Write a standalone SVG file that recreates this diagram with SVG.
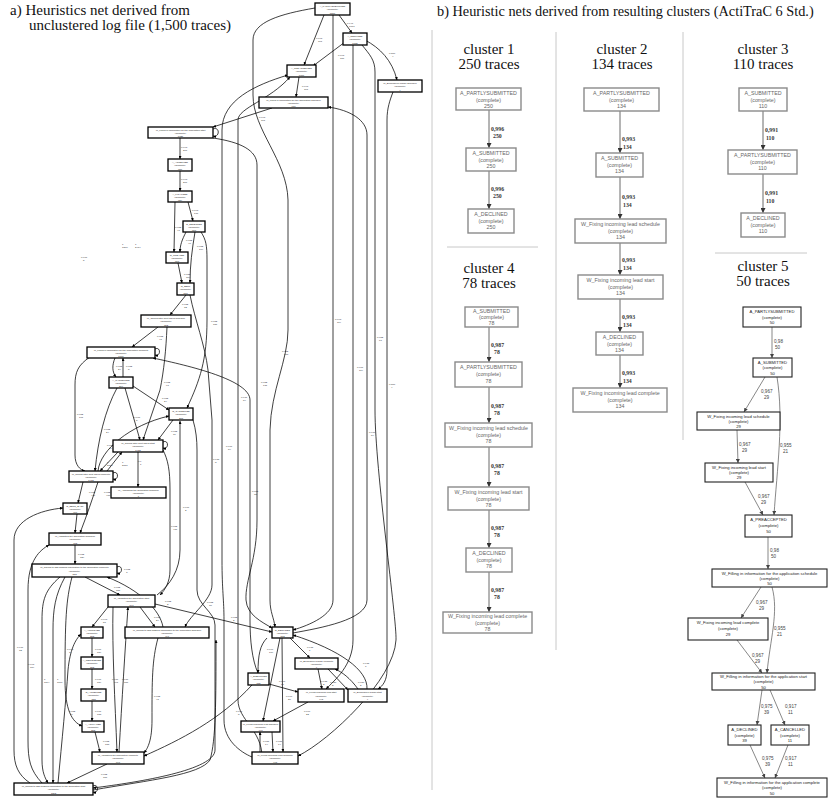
<svg xmlns="http://www.w3.org/2000/svg" width="830" height="798" viewBox="0 0 830 798">
<style>
.ttl{font-family:"Liberation Serif",serif;font-size:15px;fill:#111}
.ttlb{font-family:"Liberation Serif",serif;font-size:14.3px;fill:#111}
.hd{font-family:"Liberation Serif",serif;font-size:15px;fill:#111;text-anchor:middle}
.sep{stroke:#c8c8c8;stroke-width:1;fill:none}
.an rect{fill:#fff;stroke:#000;stroke-width:1.3}
.an text{font-family:"Liberation Sans",sans-serif;font-size:2.4px;fill:#222;text-anchor:middle}
.ea path{fill:none;stroke:#000;stroke-width:0.75;marker-end:url(#ma)}
.la text{font-family:"Liberation Sans",sans-serif;font-size:2.5px;fill:#333}
.bn rect{fill:#fff;stroke:#8a8a8a;stroke-width:1.4}
.bn text{font-family:"Liberation Sans",sans-serif;font-size:5.3px;fill:#666;text-anchor:middle}
.eb path{fill:none;stroke:#444;stroke-width:0.8;marker-end:url(#mb)}
.lb text{font-family:"Liberation Serif",serif;font-size:5.8px;font-weight:bold;fill:#333}
.cn rect{fill:#fff;stroke:#222;stroke-width:1.1}
.cn text{font-family:"Liberation Sans",sans-serif;font-size:4.2px;fill:#222;text-anchor:middle}
.ec path{fill:none;stroke:#555;stroke-width:0.7;marker-end:url(#mc)}
.lc text{font-family:"Liberation Sans",sans-serif;font-size:4.6px;fill:#444}
</style>
<defs>
<marker id="ma" viewBox="0 0 10 10" refX="10" refY="5" markerWidth="3" markerHeight="3" markerUnits="userSpaceOnUse" orient="auto"><path d="M0,0 L10,5 L0,10z" fill="#000"/></marker>
<marker id="mb" viewBox="0 0 10 10" refX="10" refY="5" markerWidth="5" markerHeight="5" markerUnits="userSpaceOnUse" orient="auto"><path d="M0,0 L10,5 L0,10z" fill="#333"/></marker>
<marker id="mc" viewBox="0 0 10 10" refX="10" refY="5" markerWidth="4" markerHeight="4" markerUnits="userSpaceOnUse" orient="auto"><path d="M0,0 L10,5 L0,10z" fill="#444"/></marker>
</defs>
<rect width="830" height="798" fill="#fff"/>

<!-- titles -->
<text class="ttl" x="10" y="15">a) Heuristics net derived from</text>
<text class="ttl" x="29" y="30">unclustered log file (1,500 traces)</text>
<text class="ttlb" x="437" y="16">b) Heuristic nets derived from resulting clusters (ActiTraC 6 Std.)</text>

<!-- separators -->
<g id="separators">
<path class="sep" d="M432,30 L432,790"/>
<path class="sep" d="M556,32 L556,650"/>
<path class="sep" d="M683,32 L683,440"/>
<path class="sep" d="M447,247 L538,247"/>
<path class="sep" d="M715,253 L807,253"/>
</g>

<!-- ===== PART A connectors ===== -->
<g id="connectors-a" class="ea">
<path d="M324,15 L304,65"/>
<path d="M339,15 L352,33"/>
<path d="M315,8 C280,14 253,22 253,40 L253,95 C253,130 287,160 288,200 L288,330 C288,360 271,390 270,430 L270,600 C270,612 274,618 275,627"/>
<path d="M333,15 L333,600 C333,615 310,625 293,630"/>
<path d="M345,42 L313,66"/>
<path d="M353,45 L353,640 C353,665 335,680 326,689"/>
<path d="M362,45 C370,55 375,60 375,72 L375,410 C375,470 397,620 396,640 C394,680 330,740 298,756"/>
<path d="M365,40 C380,48 392,60 397,80"/>
<path d="M393,92 C390,100 387,108 387,120 L387,670 C387,680 383,686 378,689"/>
<path d="M299,77 L296,97"/>
<path d="M252,757 C240,752 224,740 224,720 L224,620 C224,600 222,590 222,560 L222,130 C222,100 255,85 288,75"/>
<path d="M272,108 L213,127"/>
<path d="M213,138 C240,142 257,150 257,165 L257,520 C257,560 245,580 246,600 C247,615 262,622 272,628"/>
<path d="M293,633 C320,628 367,620 367,600 L367,135 C367,120 350,110 328,107"/>
<path d="M262,757 C262,730 238,720 238,700 L238,120 C238,108 270,100 290,77"/>
<path d="M180,138 L180,159"/>
<path d="M180,171 L180,191"/>
<path d="M175,202 L174,252"/>
<path d="M188,202 L193,221"/>
<path d="M186,232 C182,240 180,245 180,252"/>
<path d="M195,232 C192,250 190,265 190,283"/>
<path d="M201,232 C206,240 207,245 207,260 L207,320 C207,360 200,380 187,408"/>
<path d="M178,263 L182,283"/>
<path d="M186,295 L170,315"/>
<path d="M190,295 C195,320 205,345 208,370 L212,420 L212,585 C212,600 190,615 185,627"/>
<path d="M158,327 L132,347"/>
<path d="M167,327 C166,350 164,370 160,390 L143,440"/>
<path d="M115,358 C112,365 112,372 116,377"/>
<path d="M123,377 L123,358"/>
<path d="M258,673 C252,660 250,640 250,620 L250,400 C250,380 190,366 153,358"/>
<path d="M90,357 C78,365 75,372 75,385 L75,455 C75,465 80,470 85,471"/>
<path d="M133,386 L169,410"/>
<path d="M125,388 L140,440"/>
<path d="M117,388 C105,410 98,440 95,471"/>
<path d="M98,471 C100,450 130,425 169,416"/>
<path d="M173,420 L158,440"/>
<path d="M157,595 C170,585 180,570 180,550 L180,421"/>
<path d="M138,452 L138,487"/>
<path d="M118,452 L100,471"/>
<path d="M107,471 L122,452"/>
<path d="M163,450 C168,460 170,470 170,490 L170,570 C170,582 165,590 160,595"/>
<path d="M193,420 C196,430 197,440 197,450 L197,590 C197,605 215,612 215,625 L215,750 C215,770 140,782 93,788"/>
<path d="M83,482 L78,503"/>
<path d="M98,482 C92,500 87,515 80,533"/>
<path d="M77,514 L75,533"/>
<path d="M30,783 C18,775 14,765 14,750 L14,540 C14,520 40,510 63,508"/>
<path d="M75,545 L75,564"/>
<path d="M42,783 C30,770 28,760 28,740 L28,590 C28,560 40,550 49,545"/>
<path d="M85,577 L120,595"/>
<path d="M163,627 C160,610 140,590 107,577"/>
<path d="M60,577 C45,590 42,600 42,620 L42,760 C42,772 45,778 48,783"/>
<path d="M65,577 C55,595 53,610 53,630 L53,783"/>
<path d="M58,783 C62,740 66,700 68,670 C70,650 75,640 81,634"/>
<path d="M72,577 C66,600 65,620 65,680 C65,710 72,722 82,726"/>
<path d="M108,607 L92,627"/>
<path d="M140,607 L155,627"/>
<path d="M155,604 L272,632"/>
<path d="M113,607 C112,650 115,700 117,752"/>
<path d="M119,752 C122,700 125,650 128,607"/>
<path d="M92,638 L92,657"/>
<path d="M92,669 L92,689"/>
<path d="M92,701 L92,721"/>
<path d="M95,732 L100,752"/>
<path d="M158,638 C152,660 152,680 152,720 C152,740 148,748 144,753"/>
<path d="M107,764 L67,783"/>
<path d="M252,685 C220,720 180,740 144,756"/>
<path d="M93,790 C150,780 200,775 210,760 C216,740 216,700 216,640"/>
<path d="M267,638 C260,645 258,655 258,673"/>
<path d="M290,638 L310,658"/>
<path d="M280,638 L263,721"/>
<path d="M282,638 L283,752"/>
<path d="M318,669 L322,689"/>
<path d="M328,669 L348,690"/>
<path d="M358,689 C350,678 342,672 335,669"/>
<path d="M367,689 C368,670 340,650 293,635"/>
<path d="M269,684 L298,692"/>
<path d="M308,702 L273,721"/>
<path d="M260,752 L260,732"/>
<path d="M272,732 L273,752"/>
<path d="M213,129 C220,126 220,138 213,136"/>
<path d="M155,349 C161,346 161,357 155,355"/>
<path d="M163,442 C169,439 169,450 163,448"/>
<path d="M113,473 C119,470 119,481 113,479"/>
<path d="M117,567 C123,564 123,575 117,573"/>
<path d="M93,786 C99,783 99,794 93,792"/>
</g>

<!-- PART A edge labels -->
<g id="labels-a" class="la">
<text x="316" y="39">0,993</text><text x="318" y="42">391</text>
<text x="347" y="24">0,947</text><text x="349" y="27">1077</text>
<text x="338" y="56">0,993</text><text x="340" y="59">317</text>
<text x="389" y="54">0,800</text><text x="392" y="57">4</text>
<text x="302" y="87">0,993</text><text x="304" y="90">391</text>
<text x="259" y="118">0,993</text><text x="261" y="121">391</text>
<text x="181" y="148">0,993</text><text x="183" y="151">207</text>
<text x="181" y="180">0,993</text><text x="183" y="183">207</text>
<text x="192" y="211">0,993</text><text x="194" y="214">177</text>
<text x="175" y="228">0,952</text><text x="177" y="231">47</text>
<text x="186" y="241">0,952</text><text x="188" y="244">40</text>
<text x="197" y="247">0,952</text><text x="199" y="250">104</text>
<text x="122" y="245">1</text><text x="122" y="248">1500</text>
<text x="135" y="245">1</text><text x="135" y="248">2434</text>
<text x="81" y="258">0,967</text><text x="83" y="261">5</text>
<text x="184" y="275">0,952</text><text x="186" y="278">364</text>
<text x="182" y="305">0,952</text><text x="184" y="308">32</text>
<text x="211" y="322">0,952</text><text x="213" y="325">337</text>
<text x="157" y="337">0,952</text><text x="159" y="340">41</text>
<text x="335" y="320">0,993</text><text x="337" y="323">114</text>
<text x="377" y="338">0,952</text><text x="379" y="341">67</text>
<text x="282" y="352">0,952</text><text x="284" y="355">313</text>
<text x="357" y="368">0,907</text><text x="359" y="371">114</text>
<text x="261" y="383">0,952</text><text x="263" y="386">131</text>
<text x="164" y="383">0,952</text><text x="166" y="386">91</text>
<text x="389" y="385">0,800</text><text x="391" y="388">4</text>
<text x="241" y="398">0,977</text><text x="243" y="401">84</text>
<text x="116" y="367">0,952</text><text x="118" y="370">24</text>
<text x="126" y="367">0,952</text><text x="128" y="370">8</text>
<text x="162" y="399">0,952</text><text x="164" y="402">24</text>
<text x="77" y="415">0,952</text><text x="79" y="418">101</text>
<text x="134" y="418">0,967</text><text x="136" y="421">5</text>
<text x="104" y="430">0,952</text><text x="106" y="433">24</text>
<text x="171" y="432">0,952</text><text x="173" y="435">39</text>
<text x="107" y="446">0,952</text><text x="109" y="449">24</text>
<text x="226" y="447">0,967</text><text x="228" y="450">84</text>
<text x="213" y="460">0,978</text><text x="215" y="463">8</text>
<text x="369" y="433">0,977</text><text x="371" y="436">84</text>
<text x="138" y="462">0,9</text><text x="140" y="465">1</text>
<text x="107" y="463">1</text><text x="107" y="466">2131</text>
<text x="122" y="463">1</text><text x="122" y="466">2131</text>
<text x="89" y="493">0,952</text><text x="91" y="496">431</text>
<text x="104" y="493">0,952</text><text x="106" y="496">417</text>
<text x="252" y="492">0,952</text><text x="254" y="495">38</text>
<text x="183" y="508">0,967</text><text x="185" y="511">2</text>
<text x="171" y="527">0,952</text><text x="173" y="530">417</text>
<text x="78" y="555">0,952</text><text x="80" y="558">324</text>
<text x="124" y="570">0,952</text><text x="126" y="573">3</text>
<text x="114" y="588">0,952</text><text x="116" y="591">317</text>
<text x="165" y="602">0,952</text><text x="167" y="605">2</text>
<text x="207" y="603">0,952</text><text x="209" y="606">30</text>
<text x="154" y="618">0,952</text><text x="156" y="621">24</text>
<text x="101" y="620">0,993</text><text x="103" y="623">51</text>
<text x="231" y="618">0,952</text><text x="233" y="621">2</text>
<text x="267" y="650">0,990</text><text x="269" y="653">109</text>
<text x="307" y="648">0,975</text><text x="309" y="651">1</text>
<text x="363" y="664">0,975</text><text x="365" y="667">7</text>
<text x="17" y="648">0,977</text><text x="19" y="651">32</text>
<text x="28" y="665">0,993</text><text x="30" y="668">314</text>
<text x="44" y="680">1</text><text x="44" y="683">1164</text>
<text x="57" y="680">1</text><text x="57" y="683">1177</text>
<text x="67" y="650">0,993</text><text x="69" y="653">3</text>
<text x="95" y="650">0,967</text><text x="97" y="653">154</text>
<text x="95" y="680">0,967</text><text x="97" y="683">154</text>
<text x="112" y="680">0,977</text><text x="114" y="683">341</text>
<text x="122" y="680">0,977</text><text x="124" y="683">317</text>
<text x="154" y="697">0,952</text><text x="156" y="700">41</text>
<text x="279" y="682">0,990</text><text x="281" y="685">10</text>
<text x="321" y="682">0,975</text><text x="323" y="685">2</text>
<text x="330" y="683">0,950</text><text x="332" y="686">2</text>
<text x="358" y="683">0,950</text><text x="360" y="686">2</text>
<text x="286" y="697">0,990</text><text x="288" y="700">20</text>
<text x="236" y="712">0,990</text><text x="238" y="715">8</text>
<text x="304" y="712">0,990</text><text x="306" y="715">22</text>
<text x="69" y="712">0,952</text><text x="71" y="715">3</text>
<text x="95" y="712">0,967</text><text x="97" y="715">153</text>
<text x="103" y="742">0,952</text><text x="105" y="745">153</text>
<text x="263" y="742">0,951</text><text x="265" y="745">14</text>
<text x="276" y="742">0,951</text><text x="278" y="745">14</text>
<text x="101" y="775">0,952</text><text x="103" y="778">317</text>
</g>

<!-- PART A nodes -->
<g id="a-n1" class="an"><rect x="315" y="3" width="35" height="12"/><text x="332.5" y="7">A_PARTLYSUBMITTED</text><text x="332.5" y="10.3">(complete)</text><text x="332.5" y="13.6">1500</text></g>
<g id="a-n2" class="an"><rect x="343" y="33" width="24" height="12"/><text x="355" y="37">A_DECLINED</text><text x="355" y="40.3">(complete)</text><text x="355" y="43.6">1085</text></g>
<g id="a-n3" class="an"><rect x="287" y="65" width="29" height="12"/><text x="301.5" y="69">A_PREACCEPTED</text><text x="301.5" y="72.3">(complete)</text><text x="301.5" y="75.6">1000</text></g>
<g id="a-n4" class="an"><rect x="378" y="80" width="44" height="12"/><text x="400" y="84">W_Beoordelen fraude schedule</text><text x="400" y="87.3">(complete)</text><text x="400" y="90.6">4</text></g>
<g id="a-n5" class="an"><rect x="259" y="97" width="69" height="11"/><text x="293.5" y="100.7">W_Filling in information for the application schedule</text><text x="293.5" y="103.8">(complete)</text><text x="293.5" y="106.9">981</text></g>
<g id="a-n6" class="an"><rect x="148" y="127" width="65" height="11"/><text x="180.5" y="130.7">W_Filling in information for the application start</text><text x="180.5" y="133.8">(complete)</text><text x="180.5" y="136.9">1021</text></g>
<g id="a-n7" class="an"><rect x="168" y="159" width="24" height="12"/><text x="180" y="163">A_ACCEPTED</text><text x="180" y="166.3">(complete)</text><text x="180" y="169.6">637</text></g>
<g id="a-n8" class="an"><rect x="168" y="191" width="24" height="11"/><text x="180" y="194.7">A_FINALIZED</text><text x="180" y="197.8">(complete)</text><text x="180" y="200.9">629</text></g>
<g id="a-n9" class="an"><rect x="183" y="221" width="22" height="11"/><text x="194" y="224.7">O_SELECTED</text><text x="194" y="227.8">(complete)</text><text x="194" y="230.9">808</text></g>
<g id="a-n10" class="an"><rect x="166" y="252" width="22" height="11"/><text x="177" y="255.7">O_CREATED</text><text x="177" y="258.8">(complete)</text><text x="177" y="261.9">808</text></g>
<g id="a-n11" class="an"><rect x="177" y="283" width="17" height="12"/><text x="185.5" y="287">O_SENT</text><text x="185.5" y="290.3">(complete)</text><text x="185.5" y="293.6">808</text></g>
<g id="a-n12" class="an"><rect x="141" y="315" width="50" height="12"/><text x="166" y="319">W_Calling after sent offers schedule</text><text x="166" y="322.3">(complete)</text><text x="166" y="325.6">752</text></g>
<g id="a-n13" class="an"><rect x="87" y="347" width="68" height="11"/><text x="121" y="350.7">W_Filling in information for the application complete</text><text x="121" y="353.8">(complete)</text><text x="121" y="356.9">1007</text></g>
<g id="a-n14" class="an"><rect x="109" y="377" width="24" height="11"/><text x="121" y="380.7">A_CANCELLED</text><text x="121" y="383.8">(complete)</text><text x="121" y="386.9">369</text></g>
<g id="a-n15" class="an"><rect x="169" y="408" width="24" height="12"/><text x="181" y="412">O_CANCELLED</text><text x="181" y="415.3">(complete)</text><text x="181" y="418.6">285</text></g>
<g id="a-n16" class="an"><rect x="113" y="440" width="50" height="12"/><text x="138" y="444">W_Calling after sent offers start</text><text x="138" y="447.3">(complete)</text><text x="138" y="450.6">1413</text></g>
<g id="a-n17" class="an"><rect x="69" y="471" width="44" height="11"/><text x="91" y="474.7">W_Calling after sent offers complete</text><text x="91" y="477.8">(complete)</text><text x="91" y="480.9">1413</text></g>
<g id="a-n18" class="an"><rect x="111" y="487" width="55" height="11"/><text x="138.5" y="490.7">W_Assessing the application schedule</text><text x="138.5" y="493.8">(complete)</text><text x="138.5" y="496.9">7</text></g>
<g id="a-n19" class="an"><rect x="63" y="503" width="24" height="11"/><text x="75" y="506.7">O_SENT_BACK</text><text x="75" y="509.8">(complete)</text><text x="75" y="512.9">460</text></g>
<g id="a-n20" class="an"><rect x="49" y="533" width="52" height="12"/><text x="75" y="537">W_Validating the application schedule</text><text x="75" y="540.3">(complete)</text><text x="75" y="543.6">483</text></g>
<g id="a-n21" class="an"><rect x="32" y="564" width="85" height="13"/><text x="74.5" y="568">W_Calling to add missing information to the application complete</text><text x="74.5" y="571.5">(complete)</text><text x="74.5" y="575">853</text></g>
<g id="a-n22" class="an"><rect x="108" y="595" width="47" height="12"/><text x="131.5" y="599">W_Validating the application start</text><text x="131.5" y="602.3">(complete)</text><text x="131.5" y="605.6">847</text></g>
<g id="a-n23" class="an"><rect x="81" y="627" width="22" height="11"/><text x="92" y="630.7">A_APPROVED</text><text x="92" y="633.8">(complete)</text><text x="92" y="636.9">153</text></g>
<g id="a-n24" class="an"><rect x="125" y="627" width="84" height="11"/><text x="167" y="630.7">W_Calling to add missing information to the application schedule</text><text x="167" y="633.8">(complete)</text><text x="167" y="636.9">497</text></g>
<g id="a-n25" class="an"><rect x="81" y="657" width="22" height="12"/><text x="92" y="661">A_REGISTERED</text><text x="92" y="664.3">(complete)</text><text x="92" y="667.6">153</text></g>
<g id="a-n26" class="an"><rect x="81" y="689" width="25" height="12"/><text x="93.5" y="693">O_ACCEPTED</text><text x="93.5" y="696.3">(complete)</text><text x="93.5" y="699.6">153</text></g>
<g id="a-n27" class="an"><rect x="82" y="721" width="22" height="11"/><text x="93" y="724.7">A_ACTIVATED</text><text x="93" y="727.8">(complete)</text><text x="93" y="730.9">153</text></g>
<g id="a-n28" class="an"><rect x="92" y="752" width="52" height="12"/><text x="118" y="756">W_Validating the application complete</text><text x="118" y="759.3">(complete)</text><text x="118" y="762.6">847</text></g>
<g id="a-n29" class="an"><rect x="14" y="783" width="79" height="12"/><text x="53.5" y="787">W_Calling to add missing information to the application start</text><text x="53.5" y="790.3">(complete)</text><text x="53.5" y="793.6">1113</text></g>
<g id="a-n30" class="an"><rect x="272" y="627" width="21" height="11"/><text x="282.5" y="630.7">O_DECLINED</text><text x="282.5" y="633.8">(complete)</text><text x="282.5" y="636.9">802</text></g>
<g id="a-n31" class="an"><rect x="295" y="658" width="43" height="11"/><text x="316.5" y="661.7">W_Beoordelen fraude complete</text><text x="316.5" y="664.8">(complete)</text><text x="316.5" y="667.9">4</text></g>
<g id="a-n32" class="an"><rect x="248" y="673" width="21" height="12"/><text x="258.5" y="677">A_SUBMITTED</text><text x="258.5" y="680.3">(complete)</text><text x="258.5" y="683.6">113</text></g>
<g id="a-n33" class="an"><rect x="298" y="689" width="46" height="13"/><text x="321" y="693">W_Fixing incoming lead start</text><text x="321" y="696.5">(complete)</text><text x="321" y="700">443</text></g>
<g id="a-n34" class="an"><rect x="348" y="689" width="39" height="13"/><text x="367.5" y="693">W_Beoordelen fraude start</text><text x="367.5" y="696.5">(complete)</text><text x="367.5" y="700">4</text></g>
<g id="a-n35" class="an"><rect x="241" y="721" width="39" height="11"/><text x="260.5" y="724.7">W_Fixing incoming lead schedule</text><text x="260.5" y="727.8">(complete)</text><text x="260.5" y="730.9">448</text></g>
<g id="a-n36" class="an"><rect x="252" y="752" width="46" height="12"/><text x="275" y="756">W_Fixing incoming lead complete</text><text x="275" y="759.3">(complete)</text><text x="275" y="762.6">445</text></g>

<!-- ===== PART B headings ===== -->
<text class="hd" x="489" y="54">cluster 1</text><text class="hd" x="489" y="69">250 traces</text>
<text class="hd" x="622" y="54">cluster 2</text><text class="hd" x="622" y="69">134 traces</text>
<text class="hd" x="763" y="54">cluster 3</text><text class="hd" x="763" y="69">110 traces</text>
<text class="hd" x="489" y="273">cluster 4</text><text class="hd" x="489" y="288">78 traces</text>
<text class="hd" x="763" y="271">cluster 5</text><text class="hd" x="763" y="286">50 traces</text>

<!-- PART B connectors (clusters 1-4) -->
<g id="connectors-b" class="eb">
<path d="M489,110 L489,148"/>
<path d="M489,171 L489,209"/>
<path d="M620,111 L620,153"/>
<path d="M620,177 L620,219"/>
<path d="M620,243 L620,275"/>
<path d="M620,299 L620,332"/>
<path d="M620,355 L620,388"/>
<path d="M763,111 L763,150"/>
<path d="M763,174 L763,213"/>
<path d="M489,327 L489,362"/>
<path d="M489,387 L489,423"/>
<path d="M489,447 L489,487"/>
<path d="M489,510 L489,548"/>
<path d="M489,572 L489,612"/>
</g>
<g id="labels-b" class="lb">
<text x="491" y="131">0,996</text><text x="493" y="138">250</text>
<text x="491" y="191">0,996</text><text x="493" y="198">250</text>
<text x="622" y="141">0,993</text><text x="623" y="149">134</text>
<text x="622" y="199">0,993</text><text x="623" y="207">134</text>
<text x="622" y="262">0,993</text><text x="623" y="270">134</text>
<text x="622" y="319">0,993</text><text x="623" y="327">134</text>
<text x="622" y="375">0,993</text><text x="623" y="383">134</text>
<text x="765" y="132">0,991</text><text x="766" y="140">110</text>
<text x="765" y="195">0,991</text><text x="766" y="203">110</text>
<text x="491" y="347">0,987</text><text x="494" y="354">78</text>
<text x="491" y="408">0,987</text><text x="494" y="415">78</text>
<text x="491" y="468">0,987</text><text x="494" y="475">78</text>
<text x="491" y="530">0,987</text><text x="494" y="537">78</text>
<text x="491" y="592">0,987</text><text x="494" y="599">78</text>
</g>

<!-- cluster 1 nodes -->
<g id="c1-n1" class="bn"><rect x="456" y="88" width="65" height="22"/><text x="488.5" y="95">A_PARTLYSUBMITTED</text><text x="488.5" y="101.5">(complete)</text><text x="488.5" y="108">250</text></g>
<g id="c1-n2" class="bn"><rect x="466" y="148" width="50" height="23"/><text x="491" y="155">A_SUBMITTED</text><text x="491" y="161.5">(complete)</text><text x="491" y="168">250</text></g>
<g id="c1-n3" class="bn"><rect x="468" y="209" width="46" height="24"/><text x="491" y="216">A_DECLINED</text><text x="491" y="222.5">(complete)</text><text x="491" y="229">250</text></g>
<!-- cluster 2 nodes -->
<g id="c2-n1" class="bn"><rect x="584" y="88" width="75" height="23"/><text x="621.5" y="95">A_PARTLYSUBMITTED</text><text x="621.5" y="101.5">(complete)</text><text x="621.5" y="108">134</text></g>
<g id="c2-n2" class="bn"><rect x="596" y="153" width="47" height="24"/><text x="619.5" y="160">A_SUBMITTED</text><text x="619.5" y="166.5">(complete)</text><text x="619.5" y="173">134</text></g>
<g id="c2-n3" class="bn"><rect x="575" y="219" width="91" height="24"/><text x="620.5" y="226">W_Fixing incoming lead schedule</text><text x="620.5" y="232.5">(complete)</text><text x="620.5" y="239">134</text></g>
<g id="c2-n4" class="bn"><rect x="578" y="275" width="85" height="24"/><text x="620.5" y="282">W_Fixing incoming lead start</text><text x="620.5" y="288.5">(complete)</text><text x="620.5" y="295">134</text></g>
<g id="c2-n5" class="bn"><rect x="596" y="332" width="47" height="23"/><text x="619.5" y="339">A_DECLINED</text><text x="619.5" y="345.5">(complete)</text><text x="619.5" y="352">134</text></g>
<g id="c2-n6" class="bn"><rect x="573" y="388" width="94" height="24"/><text x="620" y="395">W_Fixing incoming lead complete</text><text x="620" y="401.5">(complete)</text><text x="620" y="408">134</text></g>
<!-- cluster 3 nodes -->
<g id="c3-n1" class="bn"><rect x="739" y="88" width="48" height="23"/><text x="763" y="95">A_SUBMITTED</text><text x="763" y="101.5">(complete)</text><text x="763" y="108">110</text></g>
<g id="c3-n2" class="bn"><rect x="728" y="150" width="69" height="24"/><text x="762.5" y="157">A_PARTLYSUBMITTED</text><text x="762.5" y="163.5">(complete)</text><text x="762.5" y="170">110</text></g>
<g id="c3-n3" class="bn"><rect x="741" y="213" width="44" height="24"/><text x="763" y="220">A_DECLINED</text><text x="763" y="226.5">(complete)</text><text x="763" y="233">110</text></g>
<!-- cluster 4 nodes -->
<g id="c4-n1" class="bn"><rect x="465" y="307" width="53" height="20"/><text x="491.5" y="313">A_SUBMITTED</text><text x="491.5" y="319">(complete)</text><text x="491.5" y="325">78</text></g>
<g id="c4-n2" class="bn"><rect x="455" y="362" width="67" height="25"/><text x="488.5" y="369">A_PARTLYSUBMITTED</text><text x="488.5" y="376">(complete)</text><text x="488.5" y="383">78</text></g>
<g id="c4-n3" class="bn"><rect x="445" y="423" width="87" height="24"/><text x="488.5" y="430">W_Fixing incoming lead schedule</text><text x="488.5" y="436.5">(complete)</text><text x="488.5" y="443">78</text></g>
<g id="c4-n4" class="bn"><rect x="448" y="487" width="81" height="23"/><text x="488.5" y="494">W_Fixing incoming lead start</text><text x="488.5" y="500.5">(complete)</text><text x="488.5" y="507">78</text></g>
<g id="c4-n5" class="bn"><rect x="466" y="548" width="46" height="24"/><text x="489" y="555">A_DECLINED</text><text x="489" y="561.5">(complete)</text><text x="489" y="568">78</text></g>
<g id="c4-n6" class="bn"><rect x="443" y="612" width="89" height="21"/><text x="487.5" y="618">W_Fixing incoming lead complete</text><text x="487.5" y="624.5">(complete)</text><text x="487.5" y="631">78</text></g>

<!-- cluster 5 connectors -->
<g id="connectors-c5" class="ec">
<path d="M772,327 L772,358"/>
<path d="M765,377 L744,412"/>
<path d="M777,377 C784,420 777,470 774,515"/>
<path d="M737,430 L738,463"/>
<path d="M745,482 L763,515"/>
<path d="M768,537 L768,569"/>
<path d="M761,587 L741,618"/>
<path d="M772,587 C779,612 770,640 767,673"/>
<path d="M737,640 L762,673"/>
<path d="M762,690 L757,725"/>
<path d="M770,690 L785,725"/>
<path d="M750,745 L765,778"/>
<path d="M788,745 L775,778"/>
</g>
<g id="labels-c5" class="lc">
<text x="774" y="343">0,98</text><text x="775" y="349">50</text>
<text x="761" y="393">0,967</text><text x="764" y="399">29</text>
<text x="780" y="447">0,955</text><text x="783" y="453">21</text>
<text x="739" y="446">0,967</text><text x="742" y="452">29</text>
<text x="758" y="498">0,967</text><text x="761" y="504">29</text>
<text x="770" y="552">0,98</text><text x="771" y="558">50</text>
<text x="756" y="604">0,967</text><text x="759" y="610">29</text>
<text x="774" y="630">0,955</text><text x="777" y="636">21</text>
<text x="752" y="657">0,967</text><text x="755" y="663">29</text>
<text x="761" y="708">0,975</text><text x="764" y="714">39</text>
<text x="785" y="708">0,917</text><text x="788" y="714">11</text>
<text x="762" y="760">0,975</text><text x="765" y="766">39</text>
<text x="785" y="760">0,917</text><text x="788" y="766">11</text>
</g>
<!-- cluster 5 nodes -->
<g id="c5-n1" class="cn"><rect x="743" y="307" width="58" height="20"/><text x="772" y="313">A_PARTLYSUBMITTED</text><text x="772" y="318.5">(complete)</text><text x="772" y="324">50</text></g>
<g id="c5-n2" class="cn"><rect x="753" y="358" width="39" height="19"/><text x="772.5" y="364">A_SUBMITTED</text><text x="772.5" y="369">(complete)</text><text x="772.5" y="374.5">50</text></g>
<g id="c5-n3" class="cn"><rect x="697" y="412" width="83" height="18"/><text x="738.5" y="417.5">W_Fixing incoming lead schedule</text><text x="738.5" y="422.5">(complete)</text><text x="738.5" y="428">29</text></g>
<g id="c5-n4" class="cn"><rect x="705" y="463" width="68" height="19"/><text x="739" y="468.5">W_Fixing incoming lead start</text><text x="739" y="473.5">(complete)</text><text x="739" y="479">29</text></g>
<g id="c5-n5" class="cn"><rect x="745" y="515" width="47" height="22"/><text x="768.5" y="521">A_PREACCEPTED</text><text x="768.5" y="526.5">(complete)</text><text x="768.5" y="532.5">50</text></g>
<g id="c5-n6" class="cn"><rect x="712" y="569" width="115" height="18"/><text x="769.5" y="574.5">W_Filling in information for the application schedule</text><text x="769.5" y="579.5">(complete)</text><text x="769.5" y="585">50</text></g>
<g id="c5-n7" class="cn"><rect x="688" y="618" width="80" height="22"/><text x="728" y="624">W_Fixing incoming lead complete</text><text x="728" y="629.5">(complete)</text><text x="728" y="635.5">29</text></g>
<g id="c5-n8" class="cn"><rect x="712" y="673" width="103" height="17"/><text x="763.5" y="678">W_Filling in information for the application start</text><text x="763.5" y="683">(complete)</text><text x="763.5" y="688.5">50</text></g>
<g id="c5-n9" class="cn"><rect x="728" y="725" width="33" height="20"/><text x="744.5" y="731">A_DECLINED</text><text x="744.5" y="736.5">(complete)</text><text x="744.5" y="742">39</text></g>
<g id="c5-n10" class="cn"><rect x="771" y="725" width="38" height="20"/><text x="790" y="731">A_CANCELLED</text><text x="790" y="736.5">(complete)</text><text x="790" y="742">11</text></g>
<g id="c5-n11" class="cn"><rect x="717" y="778" width="110" height="19"/><text x="772" y="784">W_Filling in information for the application complete</text><text x="772" y="789">(complete)</text><text x="772" y="794.5">50</text></g>
</svg>
